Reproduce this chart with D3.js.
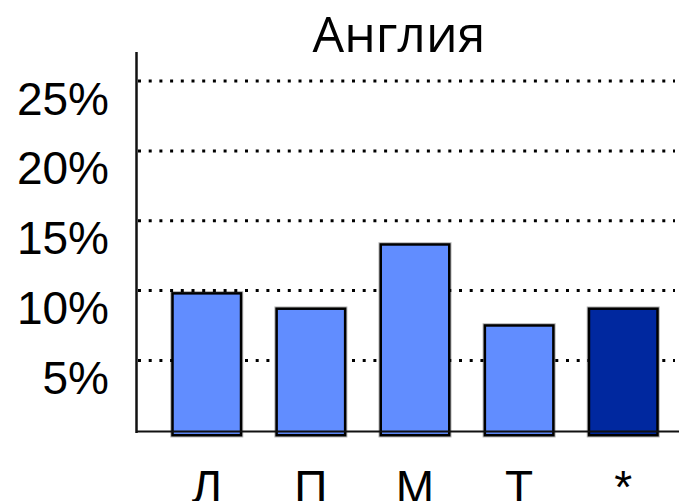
<!DOCTYPE html>
<html>
<head>
<meta charset="utf-8">
<script src="https://cdn.jsdelivr.net/npm/d3@7"></script>
<style>
  html, body { margin: 0; padding: 0; background: #fff; }
  svg { display: block; }
</style>
</head>
<body>
<svg id="chart" width="679" height="501"></svg>
<script>
// Share by category (percent)
const categories = ["Л", "П", "М", "Т", "*"];
const values = [9.8, 8.7, 13.3, 7.5, 8.7];
const highlighted = ["*"];
const yTicks = [5, 10, 15, 20, 25];
const title = "Англия";

const svg = d3.select("#chart");

const y = d3.scaleLinear().domain([0, 25]).range([430.2, 81.1]);
const x = d3.scaleBand()
  .domain(categories)
  .range([137, 693])
  .paddingInner(0.342)
  .paddingOuter(0.341);

const axisX = 136.5;
const gridRight = 675;

// Title
svg.append("text")
  .attr("x", 399).attr("y", 52)
  .attr("text-anchor", "middle")
  .attr("font-family", "'Open Sans', 'Noto Sans', sans-serif")
  .attr("font-size", 50)
  .attr("fill", "#000")
  .text(title);

// Dotted gridlines
svg.append("g").selectAll("line")
  .data(yTicks)
  .join("line")
  .attr("x1", axisX + 1.5).attr("x2", gridRight)
  .attr("y1", d => y(d)).attr("y2", d => y(d))
  .attr("stroke", "#000")
  .attr("stroke-width", 3)
  .attr("stroke-dasharray", "3 7.7");

// Y tick labels via d3 axis (no tick marks, no domain)
const yAxis = d3.axisLeft(y)
  .tickValues(yTicks)
  .tickSize(0)
  .tickPadding(0)
  .tickFormat(d => d + "%");

const gy = svg.append("g")
  .attr("transform", `translate(109,0)`)
  .call(yAxis);
gy.select(".domain").remove();
gy.selectAll("text")
  .attr("font-family", "'Liberation Sans', Arial, Helvetica, sans-serif")
  .attr("font-size", 46)
  .attr("fill", "#000")
  .attr("dy", 33)
  .attr("x", 0);

// Bars: a soft halo under a crisp black outline
const bars = svg.append("g");
const base = y(0) + 5;
bars.selectAll("rect.halo")
  .data(categories)
  .join("rect")
  .attr("class", "halo")
  .attr("x", d => x(d))
  .attr("y", (d, i) => y(values[i]))
  .attr("width", x.bandwidth())
  .attr("height", (d, i) => base - y(values[i]))
  .attr("fill", "none")
  .attr("stroke", "rgba(0,0,0,0.3)")
  .attr("stroke-width", 4.5);
bars.selectAll("rect.bar")
  .data(categories)
  .join("rect")
  .attr("class", "bar")
  .attr("x", d => x(d))
  .attr("y", (d, i) => y(values[i]))
  .attr("width", x.bandwidth())
  .attr("height", (d, i) => base - y(values[i]))
  .attr("fill", d => highlighted.includes(d) ? "#00289f" : "#618dff")
  .attr("stroke", "#000")
  .attr("stroke-width", 2.5);

// Axes lines
svg.append("line")
  .attr("x1", axisX).attr("x2", axisX)
  .attr("y1", 52).attr("y2", 433)
  .attr("stroke", "#111").attr("stroke-width", 2.5);
svg.append("line")
  .attr("x1", axisX).attr("x2", 679)
  .attr("y1", y(0) + 1.3).attr("y2", y(0) + 1.3)
  .attr("stroke", "#111").attr("stroke-width", 2.2);

// Category labels via d3 axis
const xAxis = d3.axisBottom(x).tickSize(0).tickPadding(0);
const gx = svg.append("g")
  .attr("transform", `translate(0,503)`)
  .call(xAxis);
gx.select(".domain").remove();
gx.selectAll("text")
  .attr("font-family", "'Liberation Sans', Arial, Helvetica, sans-serif")
  .attr("font-size", 46)
  .attr("fill", "#000")
  .attr("y", 0)
  .attr("dy", 0);
</script>
</body>
</html>
